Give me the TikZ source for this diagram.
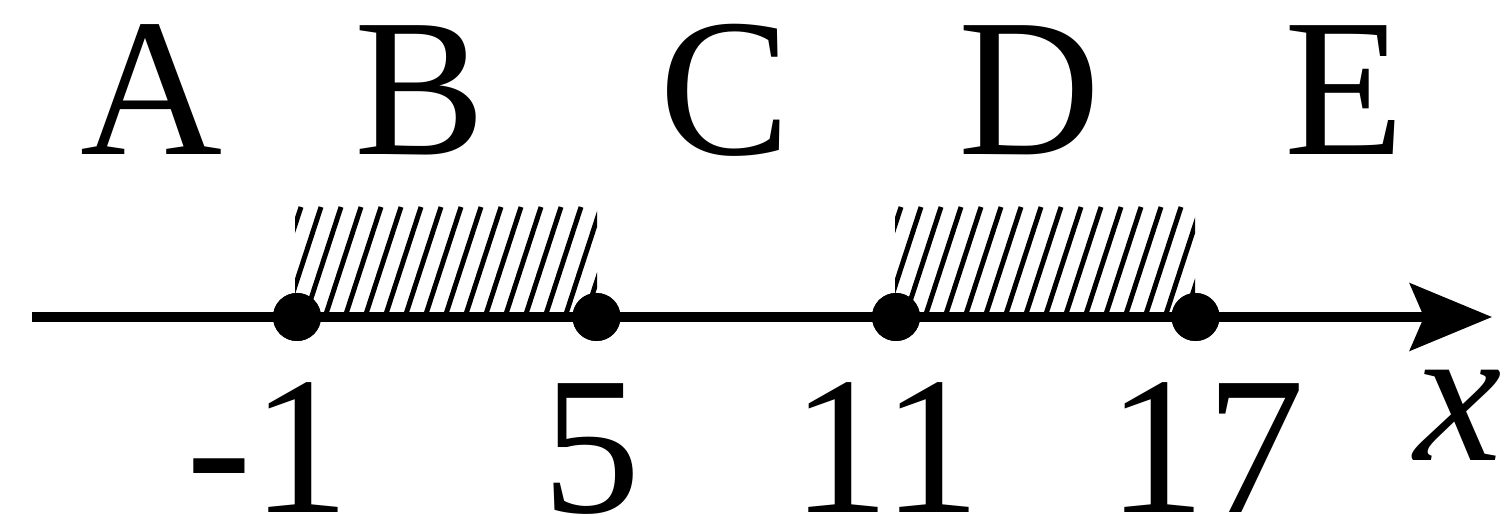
\documentclass[tikz,border=0pt]{standalone}
\usepackage{fontspec}
\setmainfont{Liberation Serif}
\usetikzlibrary{arrows.meta}
\tikzset{
  lab/.style={font=\fontsize{56}{60}\selectfont, inner sep=0pt, anchor=base},
  pt/.style={circle, fill=black, inner sep=0pt, minimum size=0.48cm},
  hatch/.style={line width=1.4pt}
}
\begin{document}
\begin{tikzpicture}[line join=round, >={Stealth[length=0.82cm, width=0.67cm, inset=0.14cm]}]
\useasboundingbox (0,0) rectangle (15.11,5.14);
\def\ya{1.97}
\def\h{1.1}
\coordinate (start) at (0.32,\ya);
\coordinate (end) at (14.92,\ya);
\node[pt] (p1) at (2.97,\ya) {};
\node[pt] (p2) at (5.965,\ya) {};
\node[pt] (p3) at (8.96,\ya) {};
\node[pt] (p4) at (11.955,\ya) {};
\foreach \xa/\xb in {2.95/5.97, 8.95/11.95}{
  \begin{scope}
    \clip (\xa,\ya) rectangle (\xb,\ya+\h);
    \foreach \i in {0,...,17}
      \draw[hatch] (\xa-0.3+\i*0.2,\ya) -- ++(0.36,\h);
  \end{scope}
}
\draw[->, line width=2.7pt] (start) -- (end);
\node[pt] at (p1) {};
\node[pt] at (p2) {};
\node[pt] at (p3) {};
\node[pt] at (p4) {};
\node[lab] (la) at (1.52,3.59) {A};
\node[lab] (lb) at (4.20,3.59) {B};
\node[lab] (lc) at (7.25,3.59) {C};
\node[lab] (ld) at (10.30,3.59) {D};
\node[lab] (le) at (13.45,3.59) {E};
\node[lab] (n1) at (2.68,0.02) {-1};
\node[lab] (n2) at (5.92,0.02) {5};
\node[lab] (n3) at (8.86,0.02) {11};
\node[lab] (n4) at (12.06,0.02) {17};
\node[lab] (nx) at (14.58,0.54) {\textit{x}};
\end{tikzpicture}
\end{document}
